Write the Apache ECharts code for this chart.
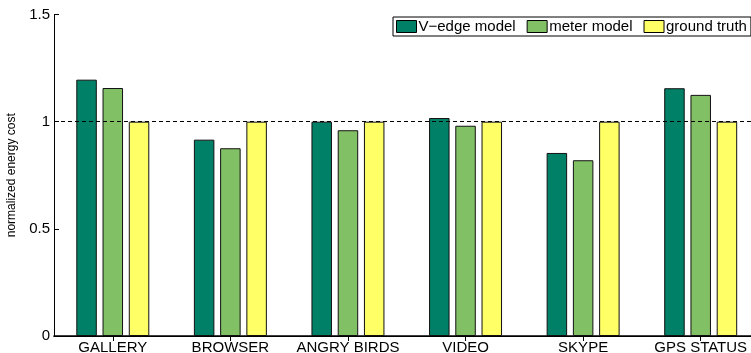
<!DOCTYPE html>
<html>
<head>
<meta charset="utf-8">
<script src="https://cdn.jsdelivr.net/npm/echarts@6/dist/echarts.min.js"></script>
<style>
  html, body { margin: 0; padding: 0; background: #fff; }
  #chart { width: 751px; height: 353px; }
</style>
</head>
<body>
<div id="chart"></div>
<script>
// Normalized energy cost per app, three estimates
const categories = ['GALLERY', 'BROWSER', 'ANGRY BIRDS', 'VIDEO', 'SKYPE', 'GPS STATUS'];
const vedgeModel = [1.196, 0.916, 1.0, 1.017, 0.854, 1.156];
const meterModel = [1.157, 0.876, 0.96, 0.981, 0.82, 1.125];
const groundTruth = [1, 1, 1, 1, 1, 1];
const seriesNames = ['V\u2212edge model', 'meter model', 'ground truth'];
const yTicks = { min: 0, max: 1.5, interval: 0.5 };

const FONT = 'Liberation Sans, Arial, Helvetica, sans-serif';
const colors = ['#008066', '#82C065', '#FFFF66'];

const chart = echarts.init(document.getElementById('chart'), null, { renderer: 'canvas' });

function barSeries(name, data, color, withRef) {
  const s = {
    name: name,
    type: 'bar',
    data: data,
    barWidth: 20.5,
    barGap: '28%',
    itemStyle: { color: color, borderColor: '#111', borderWidth: 1 },
    emphasis: { disabled: true },
    animation: false
  };
  if (withRef) {
    s.markLine = {
      silent: true,
      symbol: 'none',
      label: { show: false },
      lineStyle: { color: '#000', width: 1, type: [4, 3] },
      data: [{ yAxis: 1 }],
      animation: false
    };
  }
  return s;
}

const option = {
  backgroundColor: '#fff',
  animation: false,
  grid: {
    left: 54, right: -8.5, top: 14.5, bottom: 17,
    containLabel: false,
    outerBoundsMode: 'none'
  },
  legend: {
    left: 393,
    top: 17,
    width: 380,
    orient: 'horizontal',
    padding: [2, 4, 2, 3],
    itemGap: 11,
    itemWidth: 20,
    itemHeight: 12,
    backgroundColor: '#fff',
    borderColor: '#000',
    borderWidth: 1,
    borderRadius: 0,
    icon: 'rect',
    selectedMode: false,
    itemStyle: { borderColor: '#000', borderWidth: 1 },
    textStyle: { fontFamily: FONT, fontSize: 15, color: '#000', padding: [0, 0, 0, -3] },
    data: seriesNames
  },
  xAxis: [
    {
      type: 'category',
      data: categories,
      position: 'bottom',
      axisLine: { lineStyle: { color: '#000', width: 1.5 } },
      axisTick: { show: true, inside: true, length: 5, alignWithLabel: true, lineStyle: { color: '#000' } },
      axisLabel: { fontFamily: FONT, fontSize: 15, color: '#000', margin: 4, interval: 0 },
      splitLine: { show: false }
    },
    {
      type: 'category',
      data: categories,
      position: 'top',
      axisLine: { lineStyle: { color: '#000', width: 1 } },
      axisTick: { show: true, inside: true, length: 5, alignWithLabel: true, lineStyle: { color: '#000' } },
      axisLabel: { show: false },
      splitLine: { show: false }
    }
  ],
  yAxis: [
    {
      type: 'value',
      min: yTicks.min,
      max: yTicks.max,
      interval: yTicks.interval,
      position: 'left',
      name: 'normalized energy cost',
      nameLocation: 'middle',
      nameGap: 36,
      nameTextStyle: { fontFamily: FONT, fontSize: 12, color: '#000' },
      axisLine: { show: true, lineStyle: { color: '#000', width: 1 } },
      axisTick: { show: true, inside: true, length: 5, lineStyle: { color: '#000' } },
      axisLabel: { fontFamily: FONT, fontSize: 15, color: '#000', margin: 4 },
      splitLine: { show: false }
    },
    {
      type: 'value',
      min: yTicks.min,
      max: yTicks.max,
      interval: yTicks.interval,
      position: 'right',
      axisLine: { show: true, lineStyle: { color: '#000', width: 1 } },
      axisTick: { show: true, inside: true, length: 5, lineStyle: { color: '#000' } },
      axisLabel: { show: false },
      splitLine: { show: false }
    }
  ],
  series: [
    barSeries(seriesNames[0], vedgeModel, colors[0], true),
    barSeries(seriesNames[1], meterModel, colors[1], false),
    barSeries(seriesNames[2], groundTruth, colors[2], false)
  ]
};

chart.setOption(option);
</script>
</body>
</html>
